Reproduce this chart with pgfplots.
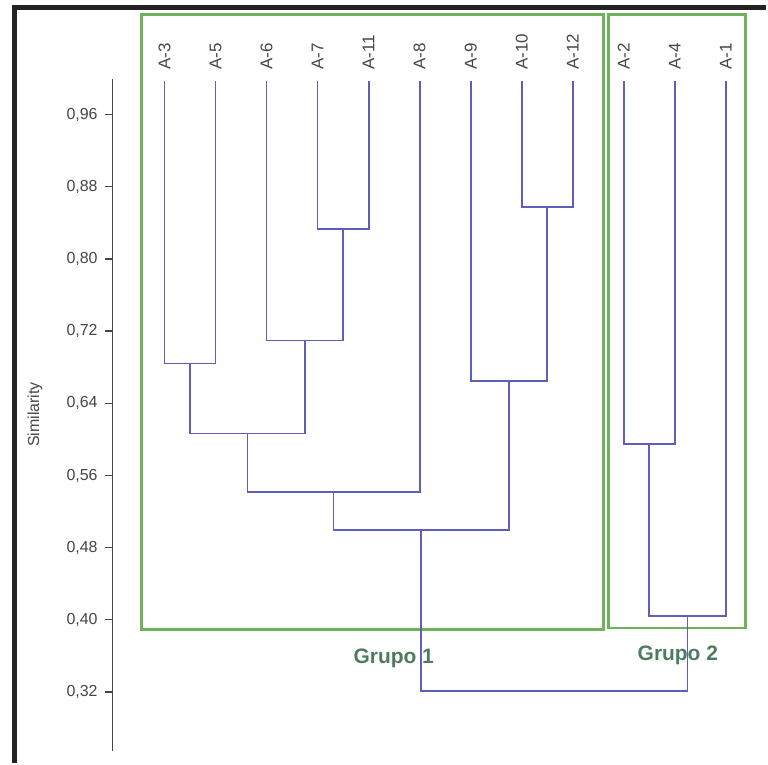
\documentclass[border=0pt]{standalone}
\usepackage{pgfplots}
\pgfplotsset{compat=1.18}
\usepackage{fontspec}
\setmainfont{Liberation Sans}
\definecolor{dendro}{RGB}{95,95,185}
\definecolor{grpgreen}{RGB}{112,178,92}
\definecolor{grptext}{RGB}{78,122,96}
\definecolor{axisgray}{RGB}{70,70,70}
\definecolor{framecol}{RGB}{35,35,35}
\begin{document}
\begin{tikzpicture}
\begin{axis}[
  x=25.6pt, y=452.5pt,
  xmin=-1.016, xmax=11.777, ymin=0.255, ymax=1.0,
  clip=false,
  axis y line=left, axis x line=top,
  x axis line style={draw=none},
  y axis line style={-, draw=axisgray, line width=0.7pt},
  tick align=outside,
  major tick length=4pt,
  xtick={0,1,2,3,4,5,6,7,8,9,10,11},
  xticklabels={A-3,A-5,A-6,A-7,A-11,A-8,A-9,A-10,A-12,A-2,A-4,A-1},
  xtick style={draw=none},
  xticklabel shift=-3pt,
  xticklabel style={rotate=90, anchor=west, font=\fontsize{8.5}{10}\selectfont, text=axisgray},
  ytick={0.32,0.40,0.48,0.56,0.64,0.72,0.80,0.88,0.96},
  ytick style={draw=axisgray, line width=0.7pt},
  yticklabel style={font=\fontsize{8}{9}\selectfont, text=axisgray},
  /pgf/number format/.cd, fixed, fixed zerofill, precision=2, use comma, assume math mode=true,
  /pgfplots/.cd,
  ylabel={Similarity},
  ylabel style={at={(axis description cs:-0.119,0.5)}, anchor=center, font=\fontsize{8}{9}\selectfont, text=axisgray},
]
% bounding area of the picture
\path (axis cs:-3.2227,1.08707) rectangle (axis cs:11.777,0.24177);
% outer frame (photo edge)
\addplot[framecol, line width=2.5pt, line join=miter] coordinates {(-2.9297,0.2418) (-2.9297,1.0788) (11.777,1.0788)};
% group boxes
\addplot[grpgreen, line width=1.5pt, line cap=rect] coordinates {(-0.449,1.0705) (8.594,1.0705) (8.594,0.3887) (-0.449,0.3887) (-0.449,1.0705)};
\addplot[grpgreen, line width=1.5pt, line cap=rect] coordinates {(8.691,1.0705) (11.387,1.0705) (11.387,0.3909) (8.691,0.3909) (8.691,1.0705)};
% dendrogram
\addplot[dendro, line width=0.9pt] coordinates {(0,0.997) (0,0.684) (1,0.684) (1,0.997)};
\addplot[dendro, line width=0.9pt] coordinates {(3,0.997) (3,0.833) (4,0.833) (4,0.997)};
\addplot[dendro, line width=0.9pt] coordinates {(2,0.997) (2,0.7095) (3.5,0.7095) (3.5,0.833)};
\addplot[dendro, line width=0.9pt] coordinates {(0.5,0.684) (0.5,0.6064) (2.75,0.6064) (2.75,0.7095)};
\addplot[dendro, line width=0.9pt] coordinates {(1.625,0.6064) (1.625,0.542) (5,0.542) (5,0.997)};
\addplot[dendro, line width=0.9pt] coordinates {(7,0.997) (7,0.858) (8,0.858) (8,0.997)};
\addplot[dendro, line width=0.9pt] coordinates {(6,0.997) (6,0.6646) (7.5,0.6646) (7.5,0.858)};
\addplot[dendro, line width=0.9pt] coordinates {(3.3125,0.542) (3.3125,0.4997) (6.75,0.4997) (6.75,0.6646)};
\addplot[dendro, line width=0.9pt] coordinates {(9,0.997) (9,0.5946) (10,0.5946) (10,0.997)};
\addplot[dendro, line width=0.9pt] coordinates {(9.5,0.5946) (9.5,0.404) (11,0.404) (11,0.997)};
\addplot[dendro, line width=0.9pt] coordinates {(5.03125,0.4997) (5.03125,0.321) (10.25,0.321) (10.25,0.404)};
% group labels
\node[text=grptext, font=\fontsize{10.5}{12}\selectfont\bfseries] at (axis cs:4.492,0.3567) {Grupo 1};
\node[text=grptext, font=\fontsize{10.5}{12}\selectfont\bfseries] at (axis cs:10.059,0.3611) {Grupo 2};
\end{axis}
\end{tikzpicture}
\end{document}
